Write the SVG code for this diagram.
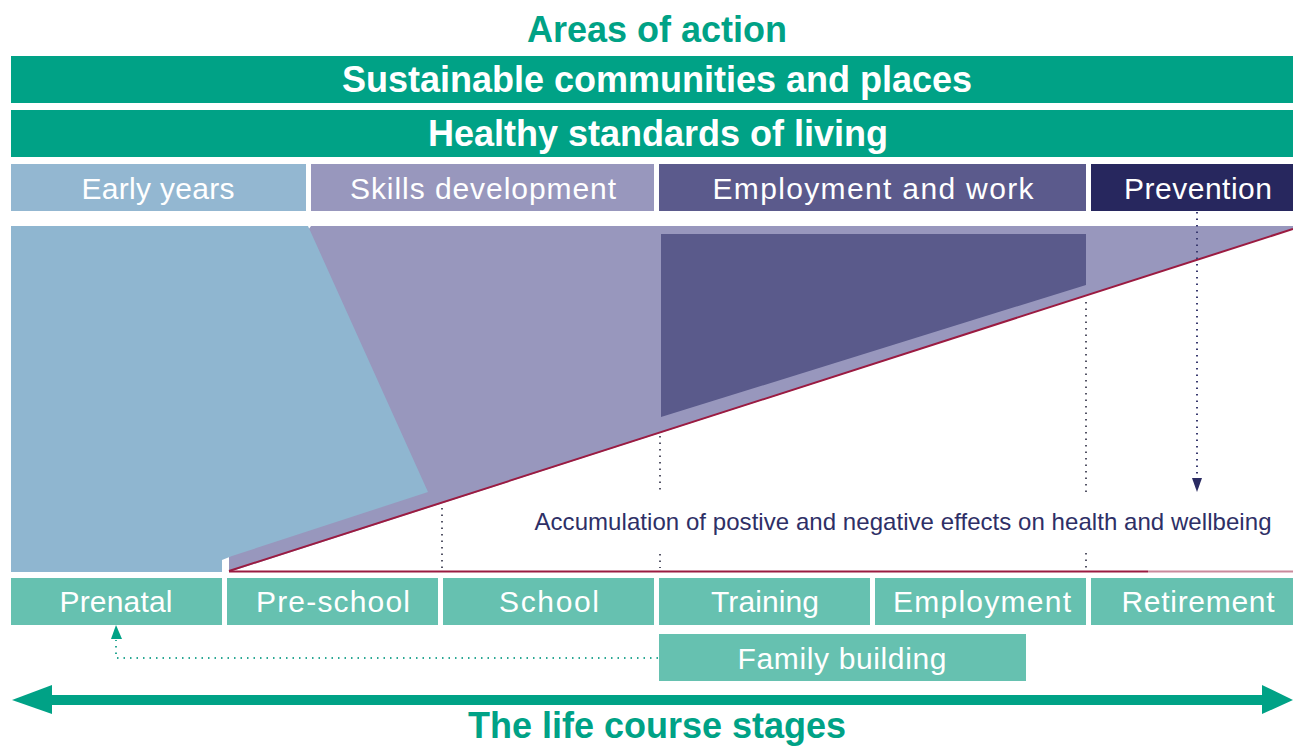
<svg xmlns="http://www.w3.org/2000/svg" width="1293" height="746" viewBox="0 0 1293 746">
<style>
.title{font-family:"Liberation Sans",Arial,sans-serif;font-weight:bold;font-size:36px;fill:#00a286;text-anchor:middle}
.bar{fill:#00a286}
.bartxt{font-family:"Liberation Sans",Arial,sans-serif;font-weight:bold;font-size:36px;fill:#ffffff;text-anchor:middle}
.lbl{font-family:"Liberation Sans",Arial,sans-serif;font-size:30px;fill:#ffffff;text-anchor:middle}
.stage{fill:#66c1b0}
.dots{stroke:#555566;stroke-width:2;stroke-dasharray:1.5 5;fill:none}
.red{stroke:#9b1b41;stroke-width:2;fill:none}
</style>
<rect width="1293" height="746" fill="#ffffff"/>
<text class="title" x="657" y="42">Areas of action</text>
<g id="sustainable">
<rect class="bar" x="11" y="56" width="1282" height="47"/>
<text class="bartxt" x="657" y="92">Sustainable communities and places</text>
</g>
<g id="healthy">
<rect class="bar" x="11" y="110" width="1282" height="47"/>
<text class="bartxt" x="658" y="146">Healthy standards of living</text>
</g>
<g id="early-years">
<rect x="11" y="164" width="295" height="47" fill="#93b7d1"/>
<text class="lbl" x="158" y="199" textLength="153">Early years</text>
</g>
<g id="skills">
<rect x="311" y="164" width="343" height="47" fill="#9897bd"/>
<text class="lbl" x="483" y="199" textLength="266">Skills development</text>
</g>
<g id="employment-work">
<rect x="659" y="164" width="427" height="47" fill="#5b5a8c"/>
<text class="lbl" x="873" y="199" textLength="321">Employment and work</text>
</g>
<g id="prevention">
<rect x="1091" y="164" width="202" height="47" fill="#27275e"/>
<text class="lbl" x="1198" y="199" textLength="148">Prevention</text>
</g>
<g id="areas">
<polygon points="311,226 1293,226 1293,229 229,572 229,557 306,233" fill="#9897bd"/>
<polygon points="11,226 308,226 428,492 232,556 222,560 222,572 11,572" fill="#8fb6d0"/>
<polygon points="661,234 1086,234 1086,285 661,417" fill="#5a5a8b"/>
</g>
<g id="connectors">
<line class="red" x1="229" y1="571" x2="1293" y2="229"/>
<line class="red" x1="229" y1="571.5" x2="1148" y2="571.5"/>
<line x1="1148" y1="571.5" x2="1293" y2="571.5" stroke="#c98a9c" stroke-width="2"/>
<line class="dots" x1="442" y1="508" x2="442" y2="568"/>
<line class="dots" x1="660" y1="436" x2="660" y2="493"/>
<line class="dots" x1="660" y1="554" x2="660" y2="568"/>
<line class="dots" x1="1086" y1="302" x2="1086" y2="492"/>
<line class="dots" x1="1086" y1="553" x2="1086" y2="568"/>
<line x1="1197" y1="212" x2="1197" y2="480" stroke="#3a3b70" stroke-width="2" stroke-dasharray="1.5 5"/>
<polygon points="1192,478 1202,478 1197,492" fill="#2b2c63"/>
<polyline points="658,658 116,658 116,640" fill="none" stroke="#2aa893" stroke-width="2" stroke-dasharray="1.5 5"/>
<polygon points="111,639 122,639 116,625" fill="#00a286"/>
<line x1="50" y1="700" x2="1264" y2="700" stroke="#00a286" stroke-width="10"/>
<polygon points="12,700 52,685 52,714" fill="#00a286"/>
<polygon points="1293,700 1262,685 1262,714" fill="#00a286"/>
</g>
<text x="903" y="530" font-family="'Liberation Sans',Arial,sans-serif" font-size="24" fill="#2e2f66" text-anchor="middle" textLength="737">Accumulation of postive and negative effects on health and wellbeing</text>
<g id="prenatal">
<rect class="stage" x="11" y="578" width="211" height="47"/>
<text class="lbl" x="116" y="612" textLength="113">Prenatal</text>
</g>
<g id="pre-school">
<rect class="stage" x="227" y="578" width="211" height="47"/>
<text class="lbl" x="333" y="612" textLength="154">Pre-school</text>
</g>
<g id="school">
<rect class="stage" x="443" y="578" width="211" height="47"/>
<text class="lbl" x="549" y="612" textLength="100">School</text>
</g>
<g id="training">
<rect class="stage" x="659" y="578" width="211" height="47"/>
<text class="lbl" x="765" y="612" textLength="108">Training</text>
</g>
<g id="employment">
<rect class="stage" x="875" y="578" width="211" height="47"/>
<text class="lbl" x="982" y="612" textLength="178">Employment</text>
</g>
<g id="retirement">
<rect class="stage" x="1091" y="578" width="202" height="47"/>
<text class="lbl" x="1198" y="612" textLength="153">Retirement</text>
</g>
<g id="family-building">
<rect class="stage" x="659" y="634" width="367" height="47"/>
<text class="lbl" x="842" y="669" textLength="209">Family building</text>
</g>
<text class="title" x="657" y="738">The life course stages</text>
</svg>
